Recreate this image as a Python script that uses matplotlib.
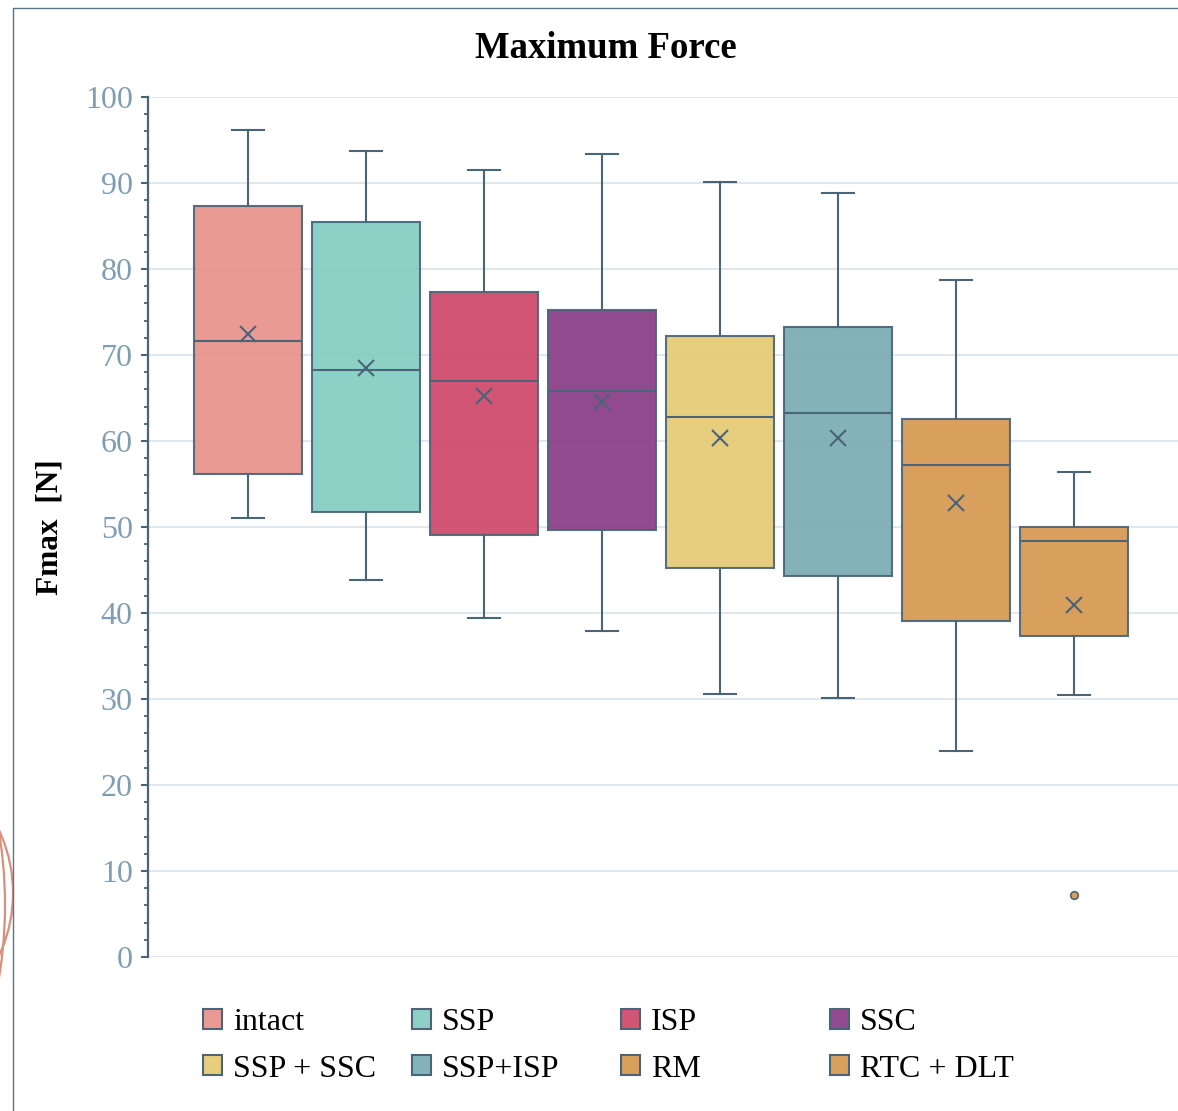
import numpy as np
import matplotlib
matplotlib.use('Agg')
import matplotlib.pyplot as plt
from matplotlib.patches import Patch, Circle
from matplotlib.lines import Line2D
from matplotlib.ticker import MultipleLocator
from matplotlib.colors import to_rgb

plt.rcParams['font.family'] = ['Liberation Serif', 'DejaVu Serif']

# Box statistics
groups = ['intact', 'SSP', 'ISP', 'SSC', 'SSP + SSC', 'SSP+ISP', 'RM', 'RTC + DLT']
whisker_low = [51.0, 43.8, 39.4, 37.9, 30.6, 30.1, 24.0, 30.5]
q1 = [56.2, 51.7, 49.1, 49.6, 45.2, 44.3, 39.1, 37.3]
medians = [71.6, 68.3, 67.0, 65.8, 62.8, 63.3, 57.2, 48.4]
q3 = [87.3, 85.5, 77.3, 75.2, 72.2, 73.2, 62.5, 50.0]
whisker_high = [96.2, 93.7, 91.5, 93.4, 90.1, 88.8, 78.7, 56.4]
means = [72.4, 68.5, 65.2, 64.5, 60.4, 60.3, 52.8, 40.9]
outliers = [[], [], [], [], [], [], [], [7.2]]

colors = ['#E99B93', '#8DD0C6', '#D35576', '#924A90',
          '#E7CE7E', '#84B3B9', '#D9A05D', '#D9A05D']
edge = '#4A6478'
tick_color = '#7F9DB3'
alpha = 0.92

def base_color(c, a):
    # colour that gives the observed tint when drawn at alpha a over white
    r = np.array(to_rgb(c))
    return tuple(np.clip((r - (1 - a)) / a, 0, 1))

fig = plt.figure(figsize=(11.78, 11.11), dpi=100)
ax = fig.add_axes([148 / 1178, 0.1386, 1 - 148 / 1178, 0.7741])

stats = []
for i, g in enumerate(groups):
    stats.append(dict(label=g, whislo=whisker_low[i], q1=q1[i], med=medians[i],
                      q3=q3[i], whishi=whisker_high[i], mean=means[i],
                      fliers=outliers[i]))

pos = np.arange(len(groups))
bp = ax.bxp(stats, positions=pos, widths=0.915, capwidths=0.27,
            patch_artist=True, showmeans=True, showfliers=True,
            boxprops=dict(edgecolor=edge, linewidth=1.5),
            medianprops=dict(color=edge, linewidth=1.5),
            whiskerprops=dict(color=edge, linewidth=1.5),
            capprops=dict(color=edge, linewidth=1.5),
            meanprops=dict(marker='x', markeredgecolor=edge, markersize=11,
                           markeredgewidth=1.5),
            flierprops=dict(marker='o', markerfacecolor='#D9A05D',
                            markeredgecolor=edge, markersize=5.5,
                            markeredgewidth=1.2),
            zorder=3)
for patch, c in zip(bp['boxes'], colors):
    patch.set_facecolor(base_color(c, alpha))
    patch.set_alpha(alpha)
    patch.set_edgecolor(edge)

ax.set_xlim(-0.847, 7.881)
ax.set_ylim(0, 100)
ax.yaxis.set_major_locator(MultipleLocator(10))
ax.yaxis.set_minor_locator(MultipleLocator(2))
ax.grid(axis='y', color='#E1E8ED', linewidth=1.4, zorder=0)
ax.set_axisbelow(True)
for s in ['top', 'right', 'bottom']:
    ax.spines[s].set_visible(False)
ax.spines['left'].set_color(edge)
ax.spines['left'].set_linewidth(1.6)
ax.tick_params(axis='y', which='major', length=5, width=1.5, color=edge,
               labelsize=23, labelcolor=tick_color, pad=6)
ax.tick_params(axis='y', which='minor', length=3, width=1.3, color=edge)
ax.tick_params(axis='x', bottom=False, labelbottom=False)

fig.text(0.514, 1 - 48 / 1111, 'Maximum Force', ha='center', va='center',
         fontsize=26.5, fontweight='bold')
fig.text(0.0424, 0.5257, 'Fmax  [N]', ha='center', va='center',
         rotation=90, fontsize=22.5, fontweight='bold')

# legend: four columns of two entries each
col_x = [203, 412, 621, 830]
for c in range(4):
    handles = []
    for r in range(2):
        k = r * 4 + c
        handles.append(Patch(facecolor=colors[k], edgecolor=edge,
                             linewidth=1.5, label=groups[k]))
    fig.legend(handles=handles, loc='upper left',
               bbox_to_anchor=(col_x[c] / 1178, 1 - 1008 / 1111),
               frameon=False, fontsize=23, handlelength=0.6,
               handleheight=0.6, handletextpad=0.35, labelspacing=0.55,
               borderpad=0, borderaxespad=0)

# frame and decorative arcs from the source page
fig.add_artist(Line2D([13 / 1178, 13 / 1178, 1.0], [0, 1 - 8 / 1111, 1 - 8 / 1111],
                      transform=fig.transFigure, color='#5A7488', linewidth=1))
fig.add_artist(Circle((-135, 1111 - 893), 148, transform=None, fill=False,
                      edgecolor='#D8907E', linewidth=1.6))
fig.add_artist(Circle((-440, 1111 - 905), 445, transform=None, fill=False,
                      edgecolor='#D8907E', linewidth=1.6))

fig.savefig('out.png', dpi=100)
